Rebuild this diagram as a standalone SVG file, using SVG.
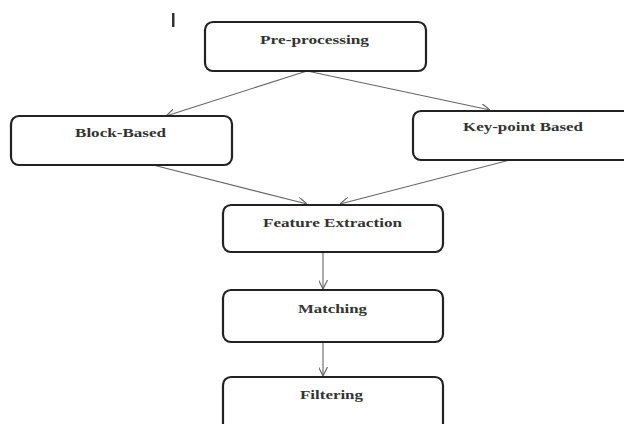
<svg xmlns="http://www.w3.org/2000/svg" width="624" height="424" viewBox="0 0 624 424">
<style>
.box{fill:#fff;stroke:#222;stroke-width:2.2}
.lbl{font-family:"Liberation Serif","Times New Roman",serif;font-weight:bold;font-size:13px;fill:#333;text-anchor:middle}
.con{stroke:#666;stroke-width:1.1;fill:none;marker-end:url(#ah)}
</style>
<defs>
<marker id="ah" viewBox="0 0 10 10" refX="10" refY="5" markerWidth="9" markerHeight="9" orient="auto" markerUnits="userSpaceOnUse">
<path d="M0,0 L10,5 L0,10" fill="none" stroke="#666" stroke-width="1.3"/>
</marker>
</defs>
<rect x="172" y="13" width="2.5" height="14" fill="#333"/>
<g id="connectors">
<line class="con" x1="307" y1="71" x2="166" y2="116"/>
<line class="con" x1="307" y1="71" x2="490" y2="110"/>
<line class="con" x1="153" y1="165" x2="307" y2="204"/>
<line class="con" x1="510" y1="160" x2="340" y2="204"/>
<line class="con" x1="323" y1="252" x2="323" y2="289"/>
<line class="con" x1="323" y1="342" x2="323" y2="376"/>
</g>
<g id="preprocessing">
<rect class="box" x="205" y="22" width="221" height="49" rx="8"/>
<text class="lbl" x="314.5" y="44" textLength="109" lengthAdjust="spacingAndGlyphs">Pre-processing</text>
</g>
<g id="blockbased">
<rect class="box" x="11" y="116" width="221" height="49" rx="8"/>
<text class="lbl" x="120.5" y="137" textLength="91" lengthAdjust="spacingAndGlyphs">Block-Based</text>
</g>
<g id="keypoint">
<rect class="box" x="413" y="111" width="230" height="49" rx="8"/>
<text class="lbl" x="523" y="131" textLength="120" lengthAdjust="spacingAndGlyphs">Key-point Based</text>
</g>
<g id="feature">
<rect class="box" x="223" y="205" width="220" height="47" rx="8"/>
<text class="lbl" x="332.5" y="227" textLength="139" lengthAdjust="spacingAndGlyphs">Feature Extraction</text>
</g>
<g id="matching">
<rect class="box" x="223" y="290" width="220" height="52" rx="8"/>
<text class="lbl" x="332.5" y="313" textLength="69" lengthAdjust="spacingAndGlyphs">Matching</text>
</g>
<g id="filtering">
<rect class="box" x="223" y="377" width="220" height="60" rx="8"/>
<text class="lbl" x="331.5" y="399" textLength="63" lengthAdjust="spacingAndGlyphs">Filtering</text>
</g>
</svg>
